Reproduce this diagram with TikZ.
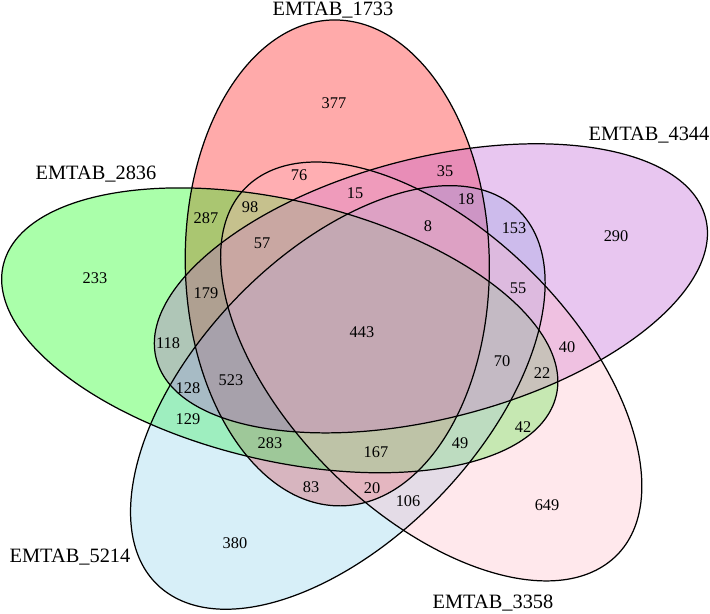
\documentclass[tikz,border=0pt]{standalone}
\usepackage{fontspec}
\setmainfont{Liberation Serif}
\definecolor{cRed}{RGB}{255,0,0}
\definecolor{cGreen}{RGB}{0,255,0}
\definecolor{cPurple}{RGB}{186,85,211}
\definecolor{cPink}{RGB}{255,185,197}
\definecolor{cBlue}{RGB}{135,206,235}
\begin{document}
\begin{tikzpicture}[x=0.02cm,y=0.02cm,
  num/.style={font=\fontsize{9.3}{11}\selectfont, inner sep=0pt},
  setlbl/.style={font=\fontsize{11.6}{14}\selectfont, inner sep=0pt, anchor=base},
  vfill/.style={fill=#1, fill opacity=0.3333, draw=none},
  vline/.style={draw=black, line width=0.7pt}]
\useasboundingbox (0,0) rectangle (710,613);
\begin{scope}[shift={(363.4,282.9)}, xscale=725, yscale=613]
  % fills (drawing order: red, green, blue, purple, pink)
  \path[vfill=cRed]    [shift={({0.1154*cos(108.2)},{0.1154*sin(108.2)})}, rotate=90.7]  (0,0) ellipse [x radius=0.3964, y radius=0.2097];
  \path[vfill=cGreen]  [shift={({0.1154*cos(180.2)},{0.1154*sin(180.2)})}, rotate=162.7] (0,0) ellipse [x radius=0.3964, y radius=0.2097];
  \path[vfill=cBlue]   [shift={({0.1154*cos(252.2)},{0.1154*sin(252.2)})}, rotate=234.7] (0,0) ellipse [x radius=0.3964, y radius=0.2097];
  \path[vfill=cPurple] [shift={({0.1154*cos(36.2)},{0.1154*sin(36.2)})}, rotate=18.7]    (0,0) ellipse [x radius=0.3964, y radius=0.2097];
  \path[vfill=cPink]   [shift={({0.1154*cos(324.2)},{0.1154*sin(324.2)})}, rotate=306.7] (0,0) ellipse [x radius=0.3964, y radius=0.2097];
  % outlines
  \path[vline] [shift={({0.1154*cos(108.2)},{0.1154*sin(108.2)})}, rotate=90.7]  (0,0) ellipse [x radius=0.3964, y radius=0.2097];
  \path[vline] [shift={({0.1154*cos(180.2)},{0.1154*sin(180.2)})}, rotate=162.7] (0,0) ellipse [x radius=0.3964, y radius=0.2097];
  \path[vline] [shift={({0.1154*cos(252.2)},{0.1154*sin(252.2)})}, rotate=234.7] (0,0) ellipse [x radius=0.3964, y radius=0.2097];
  \path[vline] [shift={({0.1154*cos(36.2)},{0.1154*sin(36.2)})}, rotate=18.7]    (0,0) ellipse [x radius=0.3964, y radius=0.2097];
  \path[vline] [shift={({0.1154*cos(324.2)},{0.1154*sin(324.2)})}, rotate=306.7] (0,0) ellipse [x radius=0.3964, y radius=0.2097];
\end{scope}
% set labels
\node[setlbl] (l1733) at (333,597) {EMTAB\_1733};
\node[setlbl] (l4344) at (649,473) {EMTAB\_4344};
\node[setlbl] (l2836) at (96,434) {EMTAB\_2836};
\node[setlbl] (l5214) at (70,51) {EMTAB\_5214};
\node[setlbl] (l3358) at (493,5) {EMTAB\_3358};
% region counts
\node[num] (n377) at (334,510) {377};
\node[num] (n76)  at (299,438) {76};
\node[num] (n35)  at (445,442) {35};
\node[num] (n15)  at (355,420) {15};
\node[num] (n18)  at (466,414) {18};
\node[num] (n98)  at (250,406) {98};
\node[num] (n287) at (206,395) {287};
\node[num] (n8)   at (428,387) {8};
\node[num] (n153) at (514,385) {153};
\node[num] (n290) at (616,377) {290};
\node[num] (n57)  at (262,370) {57};
\node[num] (n233) at (95,335) {233};
\node[num] (n55)  at (518,325) {55};
\node[num] (n179) at (206,320) {179};
\node[num] (n443) at (362,281) {443};
\node[num] (n118) at (168,270) {118};
\node[num] (n40)  at (567,266) {40};
\node[num] (n70)  at (502,252) {70};
\node[num] (n22)  at (542,240) {22};
\node[num] (n523) at (231,233) {523};
\node[num] (n128) at (188,225) {128};
\node[num] (n129) at (188,194) {129};
\node[num] (n42)  at (523,186) {42};
\node[num] (n283) at (270,170) {283};
\node[num] (n49)  at (460,170) {49};
\node[num] (n167) at (376,161) {167};
\node[num] (n83)  at (311,126) {83};
\node[num] (n20)  at (372,125) {20};
\node[num] (n106) at (408,112) {106};
\node[num] (n649) at (547,108) {649};
\node[num] (n380) at (235,70) {380};
\end{tikzpicture}
\end{document}
